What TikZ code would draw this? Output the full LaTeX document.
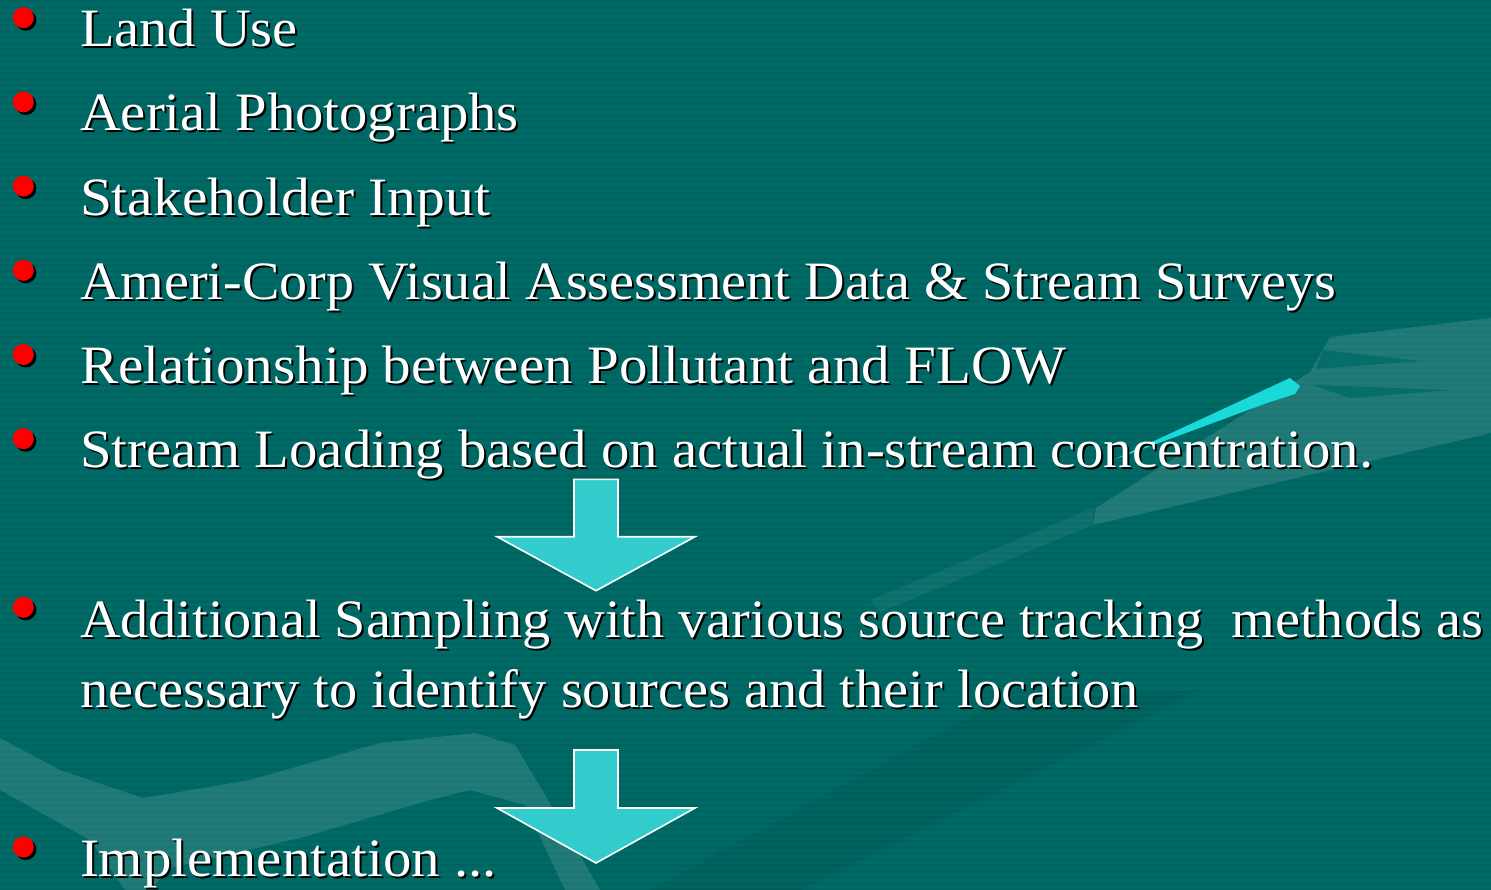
\documentclass[tikz,border=0pt]{standalone}
\usepackage{fontspec}
\setmainfont{Liberation Serif}
\usepackage{graphicx}

\definecolor{bgteal}{HTML}{006B66}
\definecolor{stripeteal}{HTML}{00625E}
\definecolor{arrowcyan}{HTML}{33CCCC}
\definecolor{wedgecyan}{HTML}{19D9D9}
\definecolor{bulletred}{HTML}{FF0000}

\tikzset{
  txt/.style={anchor=base west, inner sep=0pt, outer sep=0pt, text=white,
              font=\fontsize{54}{60}\selectfont},
  txtshade/.style={txt, text=black},
  bulletdot/.style={fill=bulletred},
  bulletshade/.style={fill=black},
  downarrow/.style={fill=arrowcyan, draw=white, line width=1.6pt, line join=miter},
  swoosh/.style={fill=white, opacity=0.12},
  darkband/.style={fill=black, opacity=0.06},
}

% one bullet item: name, baseline y, width of the printed line, text
\newcommand{\itemline}[4]{%
  \node[txtshade] (#1s) at (82,{#2+2}) {\resizebox{#3pt}{\height}{#4}};
  \node[txt] (#1) at (80,#2) {\resizebox{#3pt}{\height}{#4}};
}
% a plain continuation line without bullet
\newcommand{\bulletat}[1]{%
  \fill[bulletshade] (25.8,{#1+2.5}) circle (10.5);
  \fill[bulletdot] (23.3,#1) circle (10.5);
}
% block arrow pointing down: top y, bar y, tip y
\newcommand{\blockarrow}[3]{%
  \draw[downarrow] (574,#1) -- (618,#1) -- (618,#2) -- (695,#2) -- (596,#3)
        -- (497,#2) -- (574,#2) -- cycle;
}

\begin{document}
\begin{tikzpicture}[x=1pt, y=-1pt]
  \useasboundingbox (0,0) rectangle (1491,890);
  % background and fine horizontal ruling
  \fill[bgteal] (0,0) rectangle (1491,890);
  \foreach \i in {0,...,148} {
    \fill[stripeteal, opacity=0.7] (0,{\i*6}) rectangle (1491,{\i*6+3});
  }

  % faint background swooshes
  \fill[swoosh] (1093,525) -- (1096,508) -- (1310,372) -- (1330,337)
        -- (1491,318) -- (1491,433) -- cycle;
  \fill[bgteal, opacity=0.8] (1323,350) -- (1420,361) -- (1316,369) -- cycle;
  \fill[bgteal, opacity=0.8] (1312,385) -- (1452,390) -- (1350,398) -- cycle;
  \fill[swoosh, opacity=0.06] (870,600) -- (1093,508) -- (1093,525) -- (880,612) -- cycle;
  \fill[wedgecyan] (1113,460) -- (1290,378) -- (1300,386) -- (1295,394)
        -- (1267,403) -- cycle;

  \fill[swoosh] (0,738) -- (60,770) -- (143,798) -- (250,780) -- (380,743)
        -- (475,733) -- (515,745) -- (545,795) -- (600,890) -- (565,890)
        -- (525,805) -- (470,790) -- (430,800) -- (300,838) -- (170,868)
        -- (150,890) -- (125,890) -- (90,840) -- (0,790) -- cycle;
  \fill[darkband] (650,890) -- (1000,700) -- (1200,690) -- (800,890) -- cycle;

  % bullets
  \bulletat{17.7}
  \bulletat{101.9}
  \bulletat{186.1}
  \bulletat{270.3}
  \bulletat{354.5}
  \bulletat{438.7}
  \bulletat{607.3}
  \bulletat{847}

  % items
  \itemline{landuse}{46.7}{218}{Land Use}
  \itemline{aerial}{130.9}{439}{Aerial Photographs}
  \itemline{stake}{215.1}{410}{Stakeholder Input}
  \itemline{ameri}{299.3}{1256}{Ameri-Corp Visual Assessment Data \& Stream Surveys}
  \itemline{relation}{383.5}{986}{Relationship between Pollutant and FLOW}
  \itemline{loading}{467.7}{1293}{Stream Loading based on actual in-stream concentration.}
  \itemline{sampling}{637}{1403}{Additional Sampling with various source tracking\ \ methods as}
  \itemline{necessary}{707}{1059}{necessary to identify sources and their location}
  \itemline{implement}{876}{417}{Implementation ...}

  % flow arrows
  \blockarrow{479.3}{536.7}{590.7}
  \blockarrow{750}{808}{863}
\end{tikzpicture}
\end{document}
